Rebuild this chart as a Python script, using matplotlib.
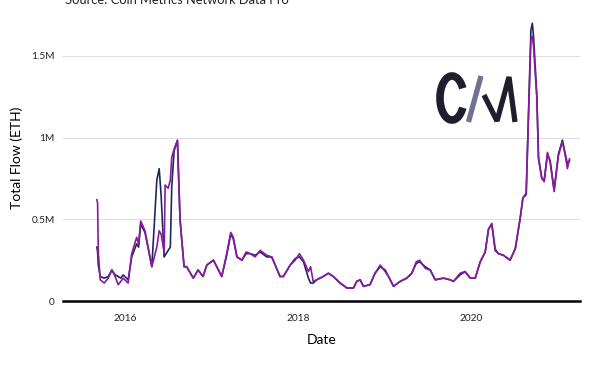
import pandas as pd
import matplotlib
matplotlib.use("Agg")
import matplotlib.pyplot as plt
import matplotlib.dates as mdates
from matplotlib.patches import Arc

plt.rcParams['font.family'] = ['Lato', 'DejaVu Sans']

dates = ["2015-09-04", "2015-09-07", "2015-09-10", "2015-09-18", "2015-10-05", "2015-10-22",
         "2015-11-06", "2015-11-20", "2015-12-03", "2015-12-14", "2015-12-24", "2016-01-14",
         "2016-01-29", "2016-02-19", "2016-02-27", "2016-03-07", "2016-03-25", "2016-04-23",
         "2016-05-14", "2016-05-24", "2016-06-01", "2016-06-14", "2016-06-18", "2016-07-01",
         "2016-07-10", "2016-07-16", "2016-07-26", "2016-08-09", "2016-08-20", "2016-09-06",
         "2016-09-17", "2016-10-15", "2016-11-04", "2016-11-25", "2016-12-11", "2017-01-08",
         "2017-01-22", "2017-02-12", "2017-03-05", "2017-03-22", "2017-04-02", "2017-04-17",
         "2017-05-08", "2017-05-26", "2017-06-12", "2017-07-03", "2017-07-24", "2017-08-21",
         "2017-09-11", "2017-10-16", "2017-10-30", "2017-11-28", "2017-12-19", "2018-01-06",
         "2018-01-23", "2018-02-13", "2018-02-22", "2018-03-05", "2018-03-20", "2018-04-16",
         "2018-05-08", "2018-05-29", "2018-06-27", "2018-07-25", "2018-08-22", "2018-09-05",
         "2018-09-19", "2018-10-03", "2018-10-31", "2018-11-21", "2018-12-13", "2019-01-03",
         "2019-01-17", "2019-02-07", "2019-03-07", "2019-04-04", "2019-04-25", "2019-05-14",
         "2019-05-28", "2019-06-21", "2019-07-12", "2019-08-02", "2019-09-06", "2019-10-04",
         "2019-10-18", "2019-11-15", "2019-12-06", "2019-12-28", "2020-01-18", "2020-02-08",
         "2020-02-29", "2020-03-14", "2020-03-28", "2020-04-11", "2020-04-25", "2020-05-16",
         "2020-06-13", "2020-07-05", "2020-07-26", "2020-08-06", "2020-08-20", "2020-08-30",
         "2020-09-09", "2020-09-15", "2020-09-20", "2020-10-04", "2020-10-11", "2020-10-25",
         "2020-11-04", "2020-11-18", "2020-11-29", "2020-12-16", "2021-01-03", "2021-01-20",
         "2021-02-01", "2021-02-10", "2021-02-19"]

# total flow in ETH (millions)
inflow = [0.33, 0.30, 0.22, 0.15, 0.14, 0.15,
          0.19, 0.16, 0.15, 0.14, 0.16, 0.13,
          0.27, 0.35, 0.33, 0.47, 0.42, 0.21,
          0.74, 0.81, 0.65, 0.27, 0.28, 0.31,
          0.33, 0.70, 0.92, 0.98, 0.50, 0.21,
          0.21, 0.14, 0.19, 0.15, 0.22, 0.25,
          0.21, 0.15, 0.28, 0.41, 0.38, 0.27,
          0.25, 0.29, 0.29, 0.28, 0.30, 0.27,
          0.27, 0.15, 0.15, 0.22, 0.26, 0.27,
          0.24, 0.14, 0.11, 0.11, 0.13, 0.15,
          0.17, 0.15, 0.11, 0.08, 0.08, 0.12,
          0.13, 0.09, 0.10, 0.17, 0.21, 0.19,
          0.15, 0.09, 0.12, 0.14, 0.17, 0.23,
          0.24, 0.21, 0.19, 0.13, 0.14, 0.13,
          0.12, 0.16, 0.18, 0.14, 0.14, 0.24,
          0.30, 0.44, 0.47, 0.31, 0.29, 0.28,
          0.25, 0.32, 0.51, 0.63, 0.66, 1.16,
          1.66, 1.70, 1.62, 1.26, 0.88, 0.75,
          0.74, 0.90, 0.86, 0.68, 0.90, 0.985,
          0.90, 0.84, 0.86]

outflow = [0.62, 0.60, 0.30, 0.13, 0.11, 0.14,
           0.19, 0.15, 0.10, 0.12, 0.14, 0.11,
           0.29, 0.39, 0.35, 0.49, 0.43, 0.21,
           0.33, 0.43, 0.41, 0.30, 0.71, 0.69,
           0.74, 0.88, 0.93, 0.985, 0.50, 0.21,
           0.21, 0.14, 0.19, 0.15, 0.22, 0.25,
           0.21, 0.15, 0.29, 0.42, 0.39, 0.27,
           0.25, 0.30, 0.29, 0.27, 0.31, 0.28,
           0.27, 0.15, 0.15, 0.22, 0.25, 0.29,
           0.25, 0.18, 0.21, 0.12, 0.13, 0.15,
           0.17, 0.15, 0.11, 0.08, 0.08, 0.12,
           0.13, 0.09, 0.10, 0.17, 0.22, 0.18,
           0.15, 0.09, 0.12, 0.14, 0.17, 0.24,
           0.25, 0.20, 0.19, 0.13, 0.14, 0.13,
           0.12, 0.17, 0.18, 0.14, 0.14, 0.24,
           0.30, 0.44, 0.475, 0.32, 0.29, 0.28,
           0.25, 0.32, 0.51, 0.63, 0.65, 1.14,
           1.60, 1.62, 1.56, 1.24, 0.87, 0.75,
           0.73, 0.91, 0.85, 0.67, 0.89, 0.975,
           0.89, 0.81, 0.87]

y_ticks = [0, 0.5, 1.0, 1.5]
y_labels = ["0", "0.5M", "1M", "1.5M"]

df = pd.DataFrame({"date": pd.to_datetime(dates), "inflow": inflow, "outflow": outflow})

fig = plt.figure(figsize=(6, 3.68), dpi=100)
ax = fig.add_axes([0.105, 0.182, 0.862, 0.777])

ax.plot(df["date"], df["inflow"], color="#1c2a5a", lw=1.2, zorder=3)
ax.plot(df["date"], df["outflow"], color="#8b1a9e", lw=1.2, zorder=4)

ax.set_ylim(0, 1.75)
ax.set_xlim(pd.Timestamp("2015-04-14"), pd.Timestamp("2021-04-05"))
ax.set_yticks(y_ticks)
ax.set_yticklabels(y_labels)
ax.xaxis.set_major_locator(mdates.YearLocator(2))
ax.xaxis.set_major_formatter(mdates.DateFormatter("%Y"))
ax.tick_params(length=0, labelsize=7.3, colors="#222222")
ax.tick_params(axis="y", pad=6)
ax.tick_params(axis="x", pad=9)
ax.grid(axis="y", color="#dedede", lw=0.8)
ax.set_axisbelow(True)
for s in ["top", "right", "left"]:
    ax.spines[s].set_visible(False)
ax.spines["bottom"].set_color("black")
ax.spines["bottom"].set_linewidth(1.8)

ax.set_xlabel("Date", fontsize=10, labelpad=8)
ax.set_ylabel("Total Flow (ETH)", fontsize=10, labelpad=6)

fig.text(65 / 600, 1 - 3.5 / 368, "Source: Coin Metrics Network Data Pro",
         fontsize=9.3, va="baseline", ha="left", color="#222222")

# CM logo, drawn in pixel coordinates
logo = fig.add_axes([0, 0, 1, 1], zorder=5)
logo.set_xlim(0, 600)
logo.set_ylim(368, 0)
logo.axis("off")
logo.patch.set_alpha(0)
logo.add_patch(Arc((452, 98), 24, 44, theta1=42, theta2=318, lw=5.5, color="#1e1f2b"))
logo.plot([468.5, 481], [122, 76], color="#6f7391", lw=3.8, solid_capstyle="butt")
logo.plot([484, 497, 509, 515], [95, 121, 77, 122], color="#1e1f2b", lw=3.8,
          solid_capstyle="butt", solid_joinstyle="bevel")

fig.savefig("out.png", dpi=100)
